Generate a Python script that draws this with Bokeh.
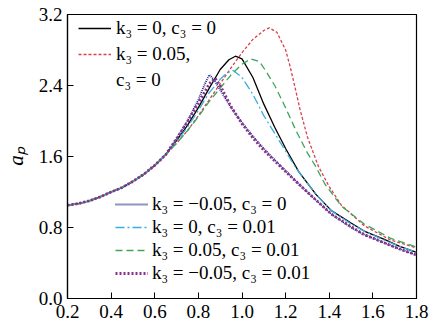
from bokeh.plotting import figure
from bokeh.models import Range1d, FixedTicker, PrintfTickFormatter, Legend, LegendItem
from bokeh.embed import file_html
from bokeh.resources import INLINE

# common low-frequency part (all curves coincide)
x_common = [0.2, 0.25, 0.3, 0.35, 0.4, 0.45, 0.5, 0.55, 0.6, 0.65]
y_common = [1.05, 1.07, 1.10, 1.145, 1.20, 1.25, 1.32, 1.40, 1.50, 1.62]

# k3 = 0, c3 = 0
x_k0c0 = x_common + [0.7, 0.75, 0.8, 0.85, 0.9, 0.94, 0.97, 1.0, 1.05, 1.1, 1.15, 1.2, 1.26, 1.34, 1.41, 1.5, 1.56, 1.65, 1.72, 1.8]
y_k0c0 = y_common + [1.78, 1.95, 2.15, 2.37, 2.58, 2.69, 2.73, 2.70, 2.49, 2.19, 1.93, 1.69, 1.43, 1.17, 0.99, 0.85, 0.76, 0.67, 0.59, 0.52]

# k3 = 0.05, c3 = 0
x_kp_c0 = x_common + [0.7, 0.75, 0.8, 0.85, 0.9, 0.95, 1.0, 1.05, 1.1, 1.125, 1.16, 1.2, 1.22, 1.243, 1.265, 1.3, 1.35, 1.4, 1.456, 1.56, 1.68, 1.8]
y_kp_c0 = y_common + [1.75, 1.89, 2.06, 2.24, 2.42, 2.60, 2.77, 2.92, 3.02, 3.05, 3.00, 2.80, 2.62, 2.38, 2.14, 1.82, 1.49, 1.26, 1.05, 0.82, 0.66, 0.57]

# k3 = -0.05, c3 = 0
x_km_c0 = x_common + [0.7, 0.75, 0.8, 0.83, 0.85, 0.87, 0.9, 0.95, 1.0, 1.05, 1.1, 1.15, 1.2, 1.26, 1.33, 1.41, 1.5, 1.56, 1.65, 1.72, 1.8]
y_km_c0 = y_common + [1.80, 2.00, 2.24, 2.42, 2.52, 2.47, 2.35, 2.15, 1.98, 1.83, 1.69, 1.56, 1.44, 1.29, 1.13, 0.95, 0.80, 0.72, 0.63, 0.56, 0.49]

# k3 = 0, c3 = 0.01
x_k0c1 = x_common + [0.7, 0.75, 0.8, 0.85, 0.9, 0.93, 0.96, 1.0, 1.05, 1.1, 1.15, 1.2, 1.25, 1.3, 1.34, 1.41, 1.5, 1.56, 1.65, 1.72, 1.8]
y_k0c1 = y_common + [1.77, 1.93, 2.12, 2.32, 2.47, 2.54, 2.57, 2.49, 2.30, 2.06, 1.86, 1.66, 1.46, 1.30, 1.17, 0.99, 0.84, 0.76, 0.66, 0.59, 0.52]

# k3 = 0.05, c3 = 0.01
x_kp_c1 = x_common + [0.7, 0.75, 0.8, 0.85, 0.9, 0.95, 1.0, 1.04, 1.08, 1.11, 1.15, 1.19, 1.25, 1.3, 1.335, 1.38, 1.456, 1.56, 1.68, 1.8]
y_kp_c1 = y_common + [1.75, 1.89, 2.05, 2.22, 2.37, 2.52, 2.64, 2.70, 2.67, 2.56, 2.40, 2.20, 1.88, 1.64, 1.50, 1.29, 1.04, 0.84, 0.68, 0.58]

# k3 = -0.05, c3 = 0.01
x_km_c1 = x_common + [0.7, 0.75, 0.8, 0.85, 0.877, 0.9, 0.95, 1.0, 1.05, 1.1, 1.15, 1.2, 1.26, 1.33, 1.41, 1.5, 1.56, 1.65, 1.72, 1.8]
y_km_c1 = y_common + [1.80, 1.99, 2.20, 2.42, 2.48, 2.40, 2.16, 1.97, 1.81, 1.67, 1.55, 1.43, 1.29, 1.13, 0.95, 0.81, 0.72, 0.63, 0.56, 0.49]

x_ticks = [0.2, 0.4, 0.6, 0.8, 1.0, 1.2, 1.4, 1.6, 1.8]
y_ticks = [0.0, 0.8, 1.6, 2.4, 3.2]

labels_top = ["k₃ = 0, c₃ = 0", "k₃ = 0.05,", "c₃ = 0"]
labels_bottom = ["k₃ = −0.05, c₃ = 0", "k₃ = 0, c₃ = 0.01", "k₃ = 0.05, c₃ = 0.01", "k₃ = −0.05, c₃ = 0.01"]

SERIF = "Liberation Serif"

p = figure(width=442, height=335, x_range=Range1d(0.2, 1.8), y_range=Range1d(0.0, 3.2),
           output_backend="svg", toolbar_location=None,
           min_border_left=62, min_border_right=26, min_border_top=14, min_border_bottom=37)
p.xgrid.visible = False
p.ygrid.visible = False
p.background_fill_color = "white"
p.border_fill_color = "white"
p.outline_line_color = "black"
p.outline_line_width = 1.2

for ax in (p.xaxis[0], p.yaxis[0]):
    ax.axis_line_color = "black"
    ax.axis_line_width = 1.2
    ax.major_tick_in = 6
    ax.major_tick_out = 0
    ax.minor_tick_line_color = None
    ax.major_tick_line_color = "black"
    ax.major_label_text_font = SERIF
    ax.major_label_text_font_size = "19px"
    ax.major_label_text_color = "black"
    ax.formatter = PrintfTickFormatter(format="%.1f")
p.xaxis[0].ticker = FixedTicker(ticks=x_ticks)
p.yaxis[0].ticker = FixedTicker(ticks=y_ticks)
p.xaxis[0].major_label_standoff = 6
p.yaxis[0].major_label_standoff = 5
p.yaxis[0].axis_label = "aₚ"
p.yaxis[0].axis_label_text_font = SERIF
p.yaxis[0].axis_label_text_font_style = "italic"
p.yaxis[0].axis_label_text_font_size = "21px"
p.yaxis[0].axis_label_text_color = "black"
p.yaxis[0].axis_label_standoff = 8

r_k0c0 = p.line(x_k0c0, y_k0c0, line_color="black", line_width=1.3)
r_kp_c0 = p.line(x_kp_c0, y_kp_c0, line_color="#d8404c", line_width=1.3, line_dash="3 2")
r_km_c0 = p.line(x_km_c0, y_km_c0, line_color="#1c2a80", line_width=1.8, line_dash="1 1")
r_k0c1 = p.line(x_k0c1, y_k0c1, line_color="#3aaede", line_width=1.3, line_dash="9 3 2 3")
r_kp_c1 = p.line(x_kp_c1, y_kp_c1, line_color="#3ea65a", line_width=1.3, line_dash="7 4")
r_km_c1 = p.line(x_km_c1, y_km_c1, line_color="#8c2f8e", line_width=2.8, line_dash="2 2")
r_dummy = p.line([], [], line_alpha=0)

def style_legend(lg, spacing):
    lg.border_line_alpha = 0
    lg.background_fill_alpha = 0
    lg.margin = 0
    lg.padding = 0
    lg.spacing = spacing
    lg.label_text_font = SERIF
    lg.label_text_font_size = "19px"
    lg.label_text_color = "black"
    lg.label_height = 20
    lg.glyph_height = 20
    lg.glyph_width = 33
    lg.label_standoff = 5

leg_top = Legend(items=[LegendItem(label=labels_top[0], renderers=[r_k0c0]),
                        LegendItem(label=labels_top[1], renderers=[r_kp_c0]),
                        LegendItem(label=labels_top[2], renderers=[r_dummy])],
                 location=(11, 207))
style_legend(leg_top, 4)
leg_bot = Legend(items=[LegendItem(label=labels_bottom[0], renderers=[r_km_c0]),
                        LegendItem(label=labels_bottom[1], renderers=[r_k0c1]),
                        LegendItem(label=labels_bottom[2], renderers=[r_kp_c1]),
                        LegendItem(label=labels_bottom[3], renderers=[r_km_c1])],
                 location=(48, 14))
style_legend(leg_bot, 1)
leg_bot.label_standoff = 4
p.add_layout(leg_top, "center")
p.add_layout(leg_bot, "center")

open("out.html", "w").write(file_html(p, INLINE))
